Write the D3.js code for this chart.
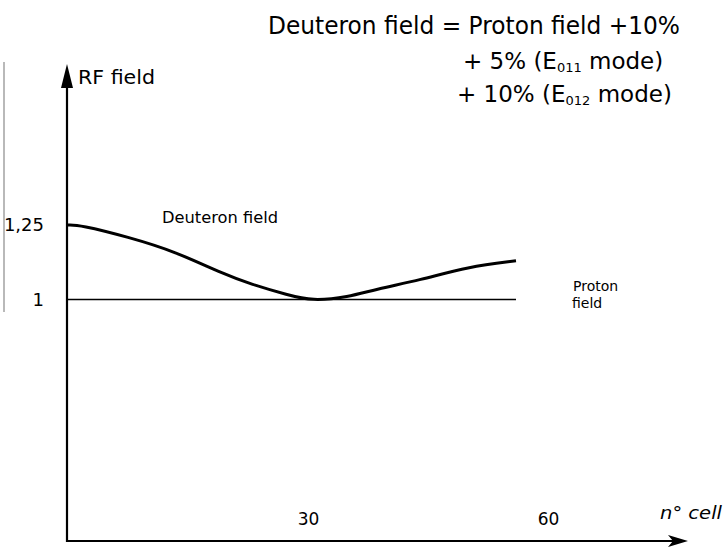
<!DOCTYPE html>
<html>
<head>
<script src="https://cdn.jsdelivr.net/npm/d3@7"></script>
<style>
  body { margin: 0; background: white; }
  text { font-family: "DejaVu Sans", sans-serif; fill: #000; }
</style>
</head>
<body>
<script>

var width = 726,
    height = 548;

// cell number along the tank
var cells     = [0, 1.5, 7.5, 13.5, 19, 23, 27.5, 30.5, 35, 38.5, 44, 50, 56];
var deuteron  = [1.25, 1.25, 1.21, 1.16, 1.09, 1.05, 1.015, 0.995, 1.008, 1.035, 1.065, 1.11, 1.13];
var protonX   = [0, 56];
var protonY   = [1, 1];
var yTicks    = [1, 1.25];
var yLabels   = ["1", "1,25"];
var xTicks    = [30, 60];

var svg = d3.select("body")
            .append("svg")
            .attr("width", width)
            .attr("height", height)
            .style("background", "white");

var x = d3.scaleLinear().domain([0, 60]).range([68, 548]);
var y = d3.scaleLinear().domain([1, 1.25]).range([299.5, 225]);

var x0 = 67, yBase = 541;

// scan artefact on the left edge
svg.append("line")
   .attr("x1", 4).attr("x2", 4)
   .attr("y1", 62).attr("y2", 312)
   .style("stroke", "#8a8a8a")
   .style("stroke-width", 1.2);

// axes drawn by hand: vertical with filled arrow, horizontal with arrow
svg.append("line")
   .attr("x1", x0).attr("x2", x0)
   .attr("y1", yBase + 1).attr("y2", 80)
   .style("stroke", "#000").style("stroke-width", 2.2);
svg.append("path")
   .attr("d", "M" + (x0 - 6) + ",88 L" + x0 + ",64 L" + (x0 + 6) + ",88 Z")
   .style("fill", "#000");

svg.append("line")
   .attr("x1", x0).attr("x2", 684)
   .attr("y1", yBase).attr("y2", yBase)
   .style("stroke", "#000").style("stroke-width", 2);
svg.append("path")
   .attr("d", "M668,535 L688,541 L668,547 L673,541 Z")
   .style("fill", "#000");

// tick labels through d3 axes, domain and tick lines hidden
var yAxis = d3.axisLeft(y)
              .tickValues(yTicks)
              .tickSize(0)
              .tickPadding(23)
              .tickFormat(function (d, i) { return yLabels[i]; });
var gy = svg.append("g")
            .attr("transform", "translate(" + x0 + ",0)")
            .call(yAxis);
gy.select(".domain").remove();
gy.selectAll("text")
  .style("font-family", "DejaVu Sans, sans-serif")
  .style("font-size", "18px");

var xAxis = d3.axisTop(x)
              .tickValues(xTicks)
              .tickSize(0)
              .tickPadding(16);
var gx = svg.append("g")
            .attr("transform", "translate(0," + yBase + ")")
            .call(xAxis);
gx.select(".domain").remove();
gx.selectAll("text")
  .style("font-family", "DejaVu Sans, sans-serif")
  .style("font-size", "17px");

// proton field (reference level)
var line = d3.line()
             .x(function (d) { return x(d[0]); })
             .y(function (d) { return y(d[1]); });

svg.append("path")
   .datum(d3.zip(protonX, protonY))
   .attr("d", line)
   .style("fill", "none")
   .style("stroke", "#000")
   .style("stroke-width", 1.6);

// deuteron field, smoothed like the pen stroke
svg.append("path")
   .datum(d3.zip(cells, deuteron))
   .attr("d", line.curve(d3.curveBasis))
   .style("fill", "none")
   .style("stroke", "#000")
   .style("stroke-width", 3);

// labels
svg.append("text")
   .attr("x", 78).attr("y", 84)
   .attr("textLength", 77).attr("lengthAdjust", "spacingAndGlyphs")
   .style("font-size", "20px")
   .text("RF field");

svg.append("text")
   .attr("x", 162).attr("y", 223)
   .attr("textLength", 116).attr("lengthAdjust", "spacingAndGlyphs")
   .style("font-size", "16px")
   .text("Deuteron field");

svg.append("text")
   .attr("x", 573).attr("y", 291)
   .style("font-size", "14px")
   .text("Proton");
svg.append("text")
   .attr("x", 572).attr("y", 308)
   .style("font-size", "14px")
   .text("field");

svg.append("text")
   .attr("x", 660).attr("y", 519)
   .attr("textLength", 62).attr("lengthAdjust", "spacingAndGlyphs")
   .style("font-size", "18px")
   .style("font-style", "italic")
   .text("n° cell");

// formula at the top
svg.append("text")
   .attr("x", 268).attr("y", 34)
   .attr("textLength", 412).attr("lengthAdjust", "spacingAndGlyphs")
   .style("font-size", "25px")
   .text("Deuteron field = Proton field +10%");

var l2 = svg.append("text")
   .attr("x", 463).attr("y", 69)
   .style("font-size", "23px");
l2.append("tspan").text("+ 5% (E");
l2.append("tspan").attr("dy", 3).style("font-size", "13px").text("011");
l2.append("tspan").attr("dy", -3).text(" mode)");

var l3 = svg.append("text")
   .attr("x", 457).attr("y", 102)
   .style("font-size", "23px");
l3.append("tspan").text("+ 10% (E");
l3.append("tspan").attr("dy", 3).style("font-size", "13px").text("012");
l3.append("tspan").attr("dy", -3).text(" mode)");

</script>
</body>
</html>
